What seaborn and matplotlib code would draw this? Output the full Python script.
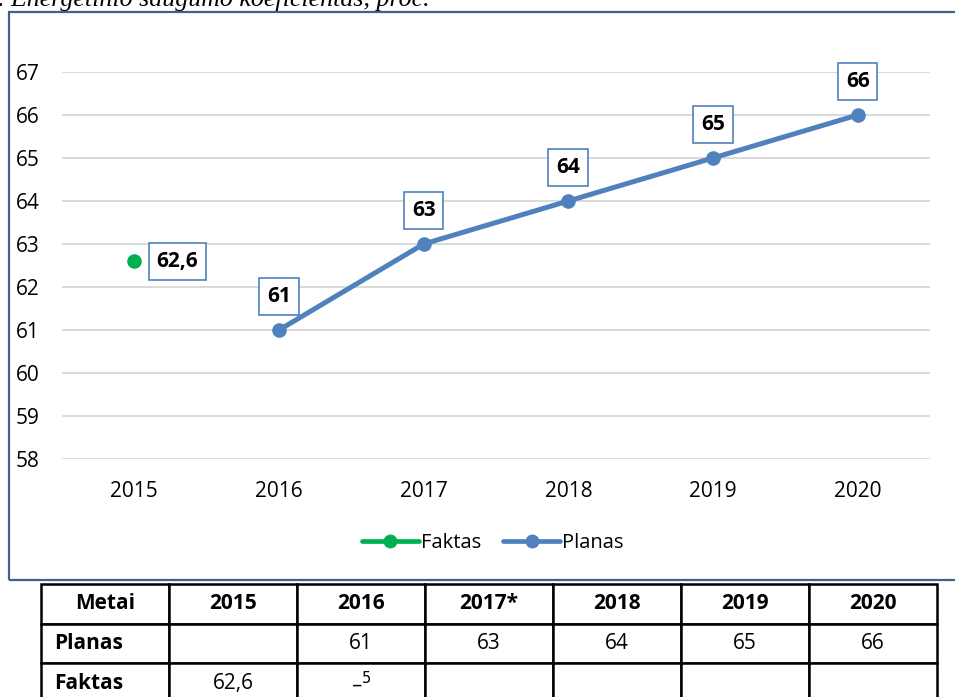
import pandas as pd
import matplotlib.pyplot as plt
import seaborn as sns
from matplotlib.lines import Line2D
from matplotlib.patches import Rectangle

# data
years = [2015, 2016, 2017, 2018, 2019, 2020]
plan_years = [2016, 2017, 2018, 2019, 2020]
plan_values = [61, 63, 64, 65, 66]
fact_years = [2015]
fact_values = [62.6]
plan_labels = ["61", "63", "64", "65", "66"]
fact_labels = ["62,6"]

table_header = ["Metai", "2015", "2016", "2017*", "2018", "2019", "2020"]
table_plan = ["Planas", "", "61", "63", "64", "65", "66"]
table_fact = ["Faktas", "62,6", "–$^5$", "", "", "", ""]

title = ". Energetinio saugumo koeficientas, proc."

BLUE = "#4F81BD"
GREEN = "#00B050"

sns.set_theme(style="white")
plt.rcParams['font.family'] = ['Open Sans', 'DejaVu Sans']
plt.rcParams['text.color'] = 'black'
plt.rcParams['xtick.color'] = 'black'
plt.rcParams['ytick.color'] = 'black'

plan_df = pd.DataFrame({"Metai": plan_years, "Reikšmė": plan_values})
fact_df = pd.DataFrame({"Metai": fact_years, "Reikšmė": fact_values})

fig = plt.figure(figsize=(9.55, 6.97), dpi=100)

# outer chart frame
fig.patches.append(Rectangle((9 / 955, 1 - 580 / 697), 1.0, 568 / 697,
                             transform=fig.transFigure, fill=False,
                             edgecolor="#41618C", lw=1.6, zorder=0))

fig.text(-2 / 955, 1 - 6 / 697, title, family="Liberation Serif", style="italic",
         fontsize=18.6, ha="left", va="baseline")

ax = fig.add_axes([62 / 955, 1 - 459 / 697, 868 / 955, 387 / 697])

sns.lineplot(data=plan_df, x="Metai", y="Reikšmė", ax=ax, color=BLUE, lw=3.6,
             marker="o", markersize=10.5, markeredgewidth=0, zorder=3)
sns.scatterplot(data=fact_df, x="Metai", y="Reikšmė", ax=ax, color=GREEN,
                s=110, linewidth=0, zorder=3)

box = dict(boxstyle="square,pad=0.38", fc="white", ec=BLUE, lw=1.2)
for x, y, t in zip(plan_years, plan_values, plan_labels):
    ax.annotate(t, (x, y), xytext=(0, 24), textcoords="offset points",
                ha="center", va="center", fontsize=15, fontweight="bold",
                bbox=box, annotation_clip=False)
for x, y, t in zip(fact_years, fact_values, fact_labels):
    ax.annotate(t, (x, y), xytext=(31, 0), textcoords="offset points",
                ha="center", va="center", fontsize=15, fontweight="bold",
                bbox=box, annotation_clip=False)

ax.set_xlim(2014.5, 2020.5)
ax.set_ylim(58, 67)
ax.set_xticks(years)
ax.set_yticks(range(58, 68))
ax.grid(axis="y", color="#D9D9D9", lw=1.4)
ax.set_axisbelow(True)
for s in ax.spines.values():
    s.set_visible(False)
ax.tick_params(axis="y", length=0, pad=16, labelsize=15)
ax.tick_params(axis="x", length=0, pad=16, labelsize=15)
ax.set_xlabel("")
ax.set_ylabel("")

handles = [
    Line2D([], [], color=GREEN, lw=3.4, marker="o", markersize=9),
    Line2D([], [], color=BLUE, lw=3.4, marker="o", markersize=9),
]
ax.legend(handles, ["Faktas", "Planas"], loc="center", ncol=2,
          bbox_to_anchor=(0.4965, -0.217), frameon=False, fontsize=14.5,
          handlelength=2.8, handletextpad=0.12, columnspacing=1.1)

# table under the chart
tab_ax = fig.add_axes([41 / 955, 1 - 703 / 697, 896 / 955, 119 / 697])
tab_ax.axis("off")
tbl = tab_ax.table(cellText=[table_header, table_plan, table_fact],
                   cellLoc="center", bbox=[0, 0, 1, 1])
tbl.auto_set_font_size(False)
for (r, c), cell in tbl.get_celld().items():
    cell.set_linewidth(1.8)
    cell.set_edgecolor("black")
    txt = cell.get_text()
    txt.set_fontsize(15)
    txt.set_color("black")
    if r == 0 or c == 0:
        txt.set_fontweight("bold")
    if c == 0 and r > 0:
        cell.set_text_props(ha="left")
        cell.PAD = 0.1

fig.savefig("out.png", dpi=100)
